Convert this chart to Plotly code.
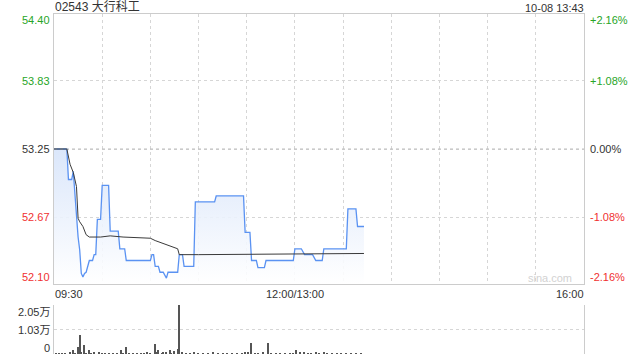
import plotly.graph_objects as go

# ---------------- data ----------------
stock_title = "02543 大行科工"
stamp = "10-08 13:43"
prev_close = 53.25
price_ticks = [54.40, 53.83, 53.25, 52.67, 52.10]
pct_labels = ["+2.16%", "+1.08%", "0.00%", "-1.08%", "-2.16%"]
time_tick_labels = ["09:30", "12:00/13:00", "16:00"]
time_tick_times = ["09:30", "13:00", "16:00"]
vol_tick_vals = [20500, 10250, 0]
vol_tick_labels = ["2.05万", "1.03万", "0"]

price_times = ["09:30", "09:38", "09:39", "09:41", "09:42", "09:44", "09:45", "09:46",
               "09:47", "09:48", "09:49", "09:50", "09:51", "09:52", "09:54", "09:55",
               "09:56", "09:57", "09:59", "10:00", "10:04", "10:05", "10:10", "10:11",
               "10:14", "10:15", "10:30", "10:31", "10:32", "10:33", "10:35", "10:36",
               "10:38", "10:40", "10:41", "10:47", "10:48", "10:50", "10:51", "10:57",
               "10:58", "11:10", "11:11", "11:28", "11:29", "11:32", "11:33", "11:36",
               "11:37", "11:41", "11:42", "11:59", "13:00", "13:04", "13:06", "13:11",
               "13:13", "13:17", "13:18", "13:32", "13:33", "13:38", "13:39", "13:43"]
price_vals = [53.25, 53.25, 52.99, 52.99, 53.06, 52.67, 52.50, 52.39,
              52.19, 52.16, 52.19, 52.20, 52.25, 52.30, 52.30, 52.35,
              52.35, 52.65, 52.65, 52.94, 52.94, 52.55, 52.55, 52.40,
              52.40, 52.30, 52.30, 52.35, 52.35, 52.25, 52.25, 52.20,
              52.20, 52.15, 52.20, 52.20, 52.35, 52.35, 52.25, 52.25,
              52.80, 52.80, 52.85, 52.85, 52.54, 52.54, 52.30, 52.30,
              52.24, 52.24, 52.30, 52.30, 52.40, 52.40, 52.35, 52.35,
              52.30, 52.30, 52.40, 52.40, 52.74, 52.74, 52.59, 52.59]

avg_times = ["09:30", "09:38", "09:40", "09:42", "09:44", "09:45", "09:46", "09:48",
             "09:50", "09:52", "09:59", "10:05", "10:13", "10:30", "10:33", "10:39",
             "10:45", "10:47", "10:48", "11:00", "13:43"]
avg_vals = [53.25, 53.25, 53.12, 53.05, 52.93, 52.66, 52.63, 52.59,
            52.52, 52.50, 52.50, 52.51, 52.50, 52.49, 52.47, 52.44,
            52.41, 52.40, 52.35, 52.35, 52.36]

vol_times = ["09:31", "09:33", "09:35", "09:37", "09:40", "09:42", "09:43", "09:45",
             "09:46", "09:47", "09:49", "09:50", "09:52", "09:53", "09:55", "09:58",
             "10:00", "10:02", "10:04", "10:07", "10:09", "10:12", "10:13", "10:15",
             "10:17", "10:19", "10:22", "10:24", "10:26", "10:28", "10:30", "10:33",
             "10:34", "10:35", "10:37", "10:38", "10:40", "10:42", "10:43", "10:45",
             "10:47", "10:48", "10:50", "10:52", "10:55", "10:57", "11:00", "11:03",
             "11:06", "11:09", "11:12", "11:15", "11:18", "11:21", "11:24", "11:27",
             "11:29", "11:31", "11:33", "11:35", "11:37", "11:40", "11:43", "11:45",
             "11:48", "11:51", "11:54", "11:57", "11:59", "13:01", "13:03", "13:06",
             "13:08", "13:10", "13:13", "13:15", "13:18", "13:20", "13:23", "13:26",
             "13:29", "13:32", "13:35", "13:38", "13:41"]
vol_vals = [300, 200, 300, 400, 600, 1500, 400, 3100,
            8000, 500, 3800, 400, 1800, 300, 500, 800,
            400, 300, 300, 400, 300, 1800, 300, 3000,
            400, 300, 300, 400, 300, 500, 400, 4300,
            600, 1800, 400, 800, 500, 1800, 400, 1400,
            2200, 20500, 500, 400, 300, 500, 300, 400,
            300, 500, 300, 400, 300, 300, 400, 300,
            500, 600, 4800, 400, 300, 500, 4800, 300,
            400, 300, 400, 300, 400, 1800, 500, 800,
            400, 300, 500, 300, 600, 300, 400, 300,
            400, 300, 400, 300, 300]

# ---------------- helpers ----------------
def to_min(t):
    h, m = map(int, t.split(":"))
    if h < 13:
        return (h * 60 + m) - (9 * 60 + 30)
    return 150 + (h * 60 + m) - 13 * 60

SESSION_END = to_min("16:00")
W, H = 640, 360
FONT = "Arial, 'Liberation Sans', 'Noto Sans CJK SC', sans-serif"
GREEN = "#27a527"
RED = "#f03030"
DARK = "#333333"
GRID = "#d6d6d6"
FRAME = "#cccccc"

x_dom = [54 / W, 584 / W]
main_dom = [(H - 284) / H, (H - 14) / H]
vol_dom = [(H - 354) / H, (H - 305) / H]

px = [to_min(t) for t in price_times]
ax_ = [to_min(t) for t in avg_times]
vx = [to_min(t) for t in vol_times]

fig = go.Figure()

fig.add_trace(go.Scatter(
    x=px, y=price_vals, mode="lines", fill="tozeroy",
    line=dict(color="#5a92f2", width=1.3),
    fillgradient=dict(type="vertical", start=52.10, stop=53.25,
                      colorscale=[[0, "rgba(255,255,255,0.9)"],
                                  [1, "rgba(215,228,250,0.9)"]]),
    hoverinfo="skip", showlegend=False, xaxis="x", yaxis="y"))

fig.add_trace(go.Scatter(
    x=[0, SESSION_END], y=[prev_close, prev_close], mode="lines",
    line=dict(color="#bdbdbd", width=1, dash="3px,3px"),
    hoverinfo="skip", showlegend=False, xaxis="x", yaxis="y"))

fig.add_trace(go.Scatter(
    x=ax_, y=avg_vals, mode="lines",
    line=dict(color="#3a3a3a", width=1),
    hoverinfo="skip", showlegend=False, xaxis="x", yaxis="y"))

fig.add_trace(go.Bar(
    x=vx, y=vol_vals, width=0.7,
    marker=dict(color="#555555", line=dict(width=0)),
    hoverinfo="skip", showlegend=False, xaxis="x2", yaxis="y2"))

fig.update_layout(
    width=W, height=H, autosize=False,
    margin=dict(l=0, r=0, t=0, b=0),
    paper_bgcolor="white", plot_bgcolor="white",
    font=dict(family=FONT, size=11, color=DARK),
    bargap=0,
    xaxis=dict(domain=x_dom, range=[0, SESSION_END], anchor="y",
               tickvals=list(range(0, SESSION_END + 1, 30)), showticklabels=False,
               ticks="", showgrid=True, gridcolor=GRID, griddash="dot", gridwidth=1,
               showline=True, mirror=True, linecolor=FRAME, linewidth=1,
               zeroline=False, fixedrange=True),
    yaxis=dict(domain=main_dom, range=[price_ticks[-1], price_ticks[0]], anchor="x",
               tickvals=price_ticks[1:-1], showticklabels=False, ticks="",
               showgrid=True, gridcolor=GRID, griddash="dot", gridwidth=1,
               showline=True, mirror=True, linecolor=FRAME, linewidth=1,
               zeroline=False, fixedrange=True),
    xaxis2=dict(domain=x_dom, range=[0, SESSION_END], anchor="y2",
                showticklabels=False, ticks="", showgrid=False, showline=False,
                zeroline=False, fixedrange=True),
    yaxis2=dict(domain=vol_dom, range=[0, vol_tick_vals[0]], anchor="x2",
                tickvals=vol_tick_vals, showticklabels=False, ticks="",
                showgrid=True, gridcolor=GRID, griddash="dot", gridwidth=1,
                showline=True, mirror=True, linecolor=FRAME, linewidth=1,
                zeroline=False, fixedrange=True),
)

ann = []
# title and timestamp
ann.append(dict(text=stock_title, xref="x", x=0, xanchor="left", xshift=-1,
                yref="paper", y=main_dom[1], yanchor="bottom", yshift=-2,
                font=dict(size=12, color=DARK), showarrow=False))
ann.append(dict(text=stamp, xref="x", x=SESSION_END, xanchor="right", xshift=2,
                yref="paper", y=main_dom[1], yanchor="bottom", yshift=-2,
                font=dict(size=11, color=DARK), showarrow=False))

# price axis labels (left) and percent labels (right)
colors = [GREEN, GREEN, DARK, RED, RED]
shifts = [-6, 0, 0, 0, 7]
for p, pct, c, s in zip(price_ticks, pct_labels, colors, shifts):
    ann.append(dict(text=f"{p:.2f}", xref="x", x=0, xanchor="right", xshift=-2,
                    yref="y", y=p, yanchor="middle", yshift=s,
                    font=dict(size=11, color=c), showarrow=False))
    ann.append(dict(text=pct, xref="x", x=SESSION_END, xanchor="left", xshift=4,
                    yref="y", y=p, yanchor="middle", yshift=s,
                    font=dict(size=11, color=c), showarrow=False))

# time labels
anchors = ["left", "center", "right"]
for lab, t, a in zip(time_tick_labels, time_tick_times, anchors):
    ann.append(dict(text=lab, xref="x", x=to_min(t), xanchor=a,
                    xshift=(-1 if a == "left" else (2 if a == "right" else 0)),
                    yref="paper", y=main_dom[0], yanchor="top", yshift=-2,
                    font=dict(size=11, color=DARK), showarrow=False))

# volume labels
vshifts = [-7, 0, 6]
for v, lab, s in zip(vol_tick_vals, vol_tick_labels, vshifts):
    ann.append(dict(text=lab, xref="x2", x=0, xanchor="right", xshift=-2,
                    yref="y2", y=v, yanchor="middle", yshift=s,
                    font=dict(size=11, color=DARK), showarrow=False))

# watermark
ann.append(dict(text="sina.com", xref="x", x=SESSION_END, xanchor="right", xshift=-10,
                yref="y", y=price_ticks[-1], yanchor="middle", yshift=6,
                font=dict(size=11, color="#d2d2d2"), showarrow=False))

fig.update_layout(annotations=ann)

fig.write_html("out.html", config={"displayModeBar": False})
